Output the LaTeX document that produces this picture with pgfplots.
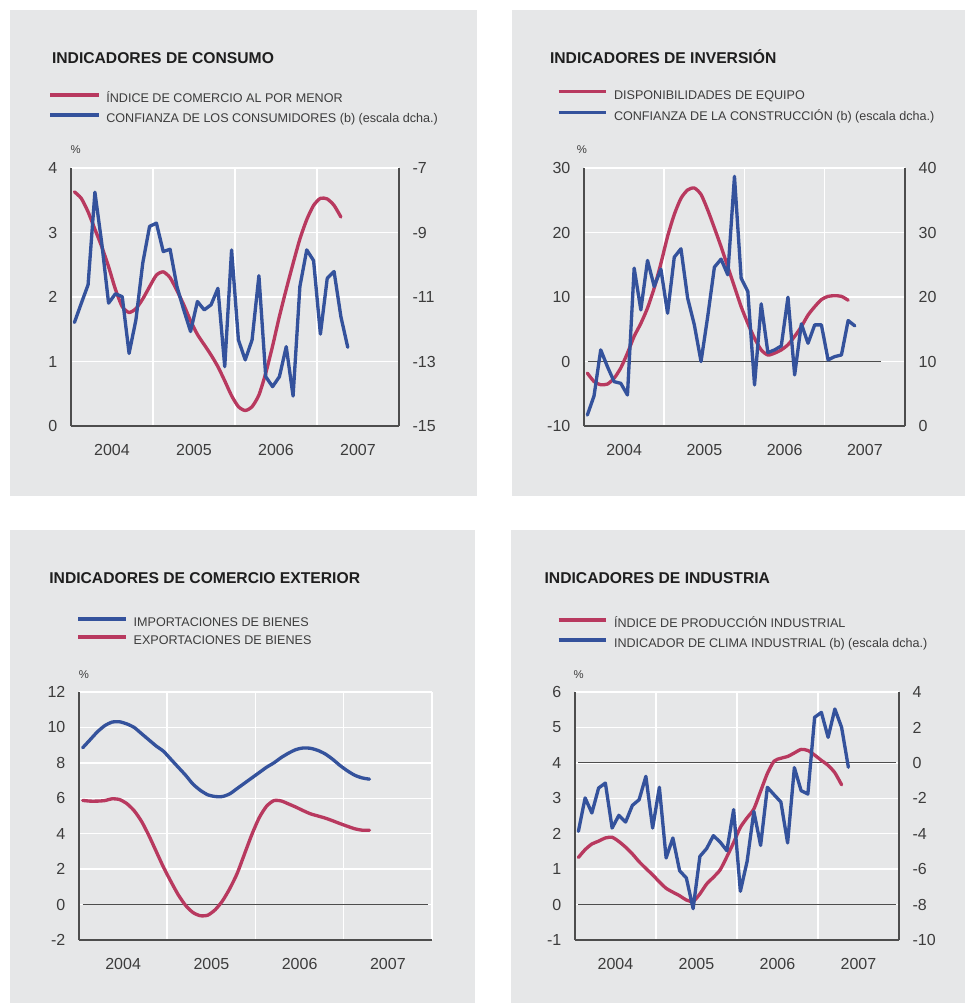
\documentclass[border=0pt]{standalone}
\usepackage{pgfplots}
\usepackage{pgfplotstable}
\pgfplotsset{compat=1.18}
\usepackage{fontspec}
\setmainfont{Liberation Sans}
\definecolor{bg}{HTML}{E6E7E8}
\definecolor{cred}{HTML}{B8395F}
\definecolor{cblue}{HTML}{34529C}
\definecolor{axc}{HTML}{4D4D4D}
\definecolor{txt}{HTML}{3C3C3C}
\definecolor{ttl}{HTML}{1E1E1E}

% Panel 1
\pgfplotstableread[header=false,row sep=\\]{3.63\\3.53\\3.32\\3.05\\2.78\\2.47\\2.12\\1.85\\1.76\\1.82\\1.97\\2.16\\2.34\\2.39\\2.30\\2.10\\1.88\\1.63\\1.42\\1.26\\1.10\\0.92\\0.70\\0.47\\0.30\\0.24\\0.30\\0.48\\0.82\\1.24\\1.70\\2.12\\2.52\\2.90\\3.20\\3.42\\3.53\\3.52\\3.42\\3.24\\}\pAred
\pgfplotstableread[header=false,row sep=\\]{-11.79\\-11.2\\-10.62\\-7.75\\-9.33\\-11.19\\-10.90\\-10.99\\-12.75\\-11.71\\-9.95\\-8.81\\-8.71\\-9.59\\-9.52\\-10.67\\-11.40\\-12.07\\-11.14\\-11.40\\-11.24\\-10.73\\-13.16\\-9.54\\-12.33\\-12.95\\-12.33\\-10.34\\-13.47\\-13.78\\-13.47\\-12.54\\-14.07\\-10.67\\-9.54\\-9.87\\-12.15\\-10.42\\-10.21\\-11.61\\-12.56\\}\pAblue
% Panel 2
\pgfplotstableread[header=false,row sep=\\]{-1.8\\-3.1\\-3.6\\-3.5\\-2.6\\-1.0\\1.3\\3.9\\5.9\\8.3\\11.4\\15.2\\19.4\\22.8\\25.3\\26.6\\26.9\\25.9\\23.5\\20.7\\17.8\\14.7\\11.6\\8.5\\5.9\\3.6\\1.8\\1.0\\1.3\\1.8\\2.6\\3.9\\5.4\\7.2\\8.5\\9.6\\10.1\\10.2\\10.1\\9.5\\}\pBred
\pgfplotstableread[header=false,row sep=\\]{1.7\\4.66\\11.8\\9.21\\6.88\\6.62\\4.81\\24.48\\18.0\\25.67\\21.63\\24.32\\17.49\\26.18\\27.48\\19.82\\15.68\\9.99\\16.97\\24.63\\25.87\\23.44\\38.7\\22.92\\20.85\\6.36\\18.94\\11.38\\11.8\\12.42\\19.97\\7.92\\15.83\\12.83\\15.68\\15.68\\10.25\\10.76\\11.02\\16.35\\15.52\\}\pBblue
% Panel 3
\pgfplotstableread[header=false,row sep=\\]{8.85\\9.3\\9.75\\10.1\\10.3\\10.32\\10.2\\10.0\\9.65\\9.3\\8.95\\8.65\\8.2\\7.75\\7.3\\6.8\\6.45\\6.2\\6.1\\6.1\\6.25\\6.55\\6.85\\7.15\\7.45\\7.75\\8.0\\8.3\\8.55\\8.75\\8.84\\8.82\\8.7\\8.5\\8.2\\7.85\\7.55\\7.3\\7.15\\7.08\\}\pCblue
\pgfplotstableread[header=false,row sep=\\]{5.88\\5.84\\5.84\\5.87\\5.97\\5.93\\5.7\\5.3\\4.7\\3.9\\3.0\\2.1\\1.3\\0.55\\-0.05\\-0.45\\-0.63\\-0.6\\-0.3\\0.2\\0.9\\1.75\\2.85\\3.95\\4.9\\5.55\\5.87\\5.85\\5.68\\5.5\\5.3\\5.12\\5.0\\4.88\\4.73\\4.57\\4.42\\4.28\\4.2\\4.2\\}\pCred
% Panel 4
\pgfplotstableread[header=false,row sep=\\]{1.33\\1.55\\1.71\\1.79\\1.88\\1.9\\1.78\\1.62\\1.43\\1.21\\1.02\\0.84\\0.64\\0.46\\0.35\\0.25\\0.13\\0.09\\0.3\\0.58\\0.77\\0.98\\1.35\\1.75\\2.18\\2.45\\2.7\\3.2\\3.7\\4.05\\4.13\\4.18\\4.28\\4.38\\4.35\\4.22\\4.07\\3.93\\3.72\\3.38\\}\pDred
\pgfplotstableread[header=false,row sep=\\]{-3.87\\-1.98\\-2.83\\-1.42\\-1.14\\-3.68\\-2.96\\-3.34\\-2.4\\-2.08\\-0.76\\-3.68\\-1.38\\-5.37\\-4.24\\-6.09\\-6.5\\-8.23\\-5.28\\-4.84\\-4.11\\-4.47\\-4.96\\-2.64\\-7.25\\-5.56\\-2.74\\-4.66\\-1.38\\-1.8\\-2.21\\-4.52\\-0.27\\-1.57\\-1.76\\2.57\\2.85\\1.44\\3.04\\2.0\\-0.25\\}\pDblue

\pgfplotsset{
  base/.style={
    scale only axis, anchor=south west,
    xmin=0, xmax=48,
    xtick={6,18,30,42}, xticklabels={2004,2005,2006,2007},
    major tick length=0pt, minor tick length=0pt,
    tick label style={font=\fontsize{9.6}{10}\selectfont, text=txt},
    /pgf/number format/assume math mode=true,
    axis line style={axc, line width=0.8pt},
  },
  leftax/.style={
    base,
    axis x line*=bottom, axis y line*=left,
    minor xtick={12,24,36,48},
    xminorgrids, ymajorgrids,
    grid style={white, line width=0.9pt},
    minor grid style={white, line width=0.9pt},
    x tick label style={inner sep=0pt, anchor=north, yshift=-10.5pt},
    y tick label style={inner sep=0pt, anchor=east, xshift=-8pt},
  },
  rightax/.style={
    base,
    axis x line=none, axis y line*=right,
    y tick label style={inner sep=0pt, anchor=west, xshift=8pt},
  },
  redl/.style={cred, line width=2pt, line join=round, line cap=round},
  bluel/.style={cblue, line width=2pt, line join=round, line cap=round},
  zl/.style={axc, line width=0.6pt},
}

\begin{document}
\begin{tikzpicture}
\begin{scope}[x=0.6pt,y=0.6pt]
\fill[white] (0,0) rectangle (965,-1003);
\path[use as bounding box] (0,0) rectangle (965,-1003);
\fill[bg] (10,-10) rectangle (477,-495.7);
\fill[bg] (512,-10) rectangle (965,-495.7);
\fill[bg] (10,-530) rectangle (475,-1003);
\fill[bg] (511,-530) rectangle (965,-1003);

\tikzset{ttl/.style={anchor=base west, inner sep=0pt, text=ttl, font=\fontsize{9.4}{11}\selectfont\bfseries},
         lg/.style={anchor=base west, inner sep=0pt, text=txt, font=\fontsize{7.55}{9}\selectfont},
         pc/.style={inner sep=0pt, text=txt, font=\fontsize{6.8}{8}\selectfont}}
% Panel 1 texts
\node[ttl] at (51.7,-63.3) {INDICADORES DE CONSUMO};
\draw[cred, line width=1.9pt] (50,-95) -- (99,-95);
\draw[cblue, line width=1.9pt] (50,-115) -- (99,-115);
\node[lg] at (106,-102.7) {ÍNDICE DE COMERCIO AL POR MENOR};
\node[lg] at (106,-122.7) {CONFIANZA DE LOS CONSUMIDORES (b) (escala dcha.)};
\node[pc] at (75.7,-150) {\%};
% Panel 2 texts
\node[ttl] at (549.7,-63.3) {INDICADORES DE INVERSIÓN};
\draw[cred, line width=1.9pt] (558.7,-91.7) -- (606,-91.7);
\draw[cblue, line width=1.9pt] (558.7,-112.7) -- (606,-112.7);
\node[lg] at (613.7,-99.3) {DISPONIBILIDADES DE EQUIPO};
\node[lg] at (613.7,-120.7) {CONFIANZA DE LA CONSTRUCCIÓN (b) (escala dcha.)};
\node[pc] at (582,-150) {\%};
% Panel 3 texts
\node[ttl] at (49,-583.3) {INDICADORES DE COMERCIO EXTERIOR};
\draw[cblue, line width=1.9pt] (78.3,-619) -- (125.7,-619);
\draw[cred, line width=1.9pt] (78.3,-637) -- (125.7,-637);
\node[lg] at (133.3,-626.7) {IMPORTACIONES DE BIENES};
\node[lg] at (133.3,-644.3) {EXPORTACIONES DE BIENES};
\node[pc] at (84,-674.3) {\%};
% Panel 4 texts
\node[ttl] at (544.3,-583.3) {INDICADORES DE INDUSTRIA};
\draw[cred, line width=1.9pt] (558.7,-620) -- (606,-620);
\draw[cblue, line width=1.9pt] (558.7,-640) -- (606,-640);
\node[lg] at (613.7,-627.7) {ÍNDICE DE PRODUCCIÓN INDUSTRIAL};
\node[lg] at (613.7,-647.7) {INDICADOR DE CLIMA INDUSTRIAL (b) (escala dcha.)};
\node[pc] at (578.7,-674.3) {\%};
\end{scope}

% ---------- Panel 1 ----------
\begin{axis}[leftax, at={(42.6pt,-255.6pt)}, width=196.8pt, height=154.8pt,
  ymin=0, ymax=4, ytick={0,1,2,3,4}]
  \addplot[redl, smooth, tension=0.4] table[x expr=\coordindex+0.5, y index=0] {\pAred};
\end{axis}
\begin{axis}[rightax, at={(42.6pt,-255.6pt)}, width=196.8pt, height=154.8pt,
  ymin=-15, ymax=-7, ytick={-15,-13,-11,-9,-7}]
  \addplot[bluel] table[x expr=\coordindex+0.5, y index=0] {\pAblue};
\end{axis}

% ---------- Panel 2 ----------
\begin{axis}[leftax, at={(350.4pt,-255.6pt)}, width=192.6pt, height=154.8pt,
  ymin=-10, ymax=30, ytick={-10,0,10,20,30}]
  \addplot[zl] coordinates {(0.55,0) (44.4,0)};
  \addplot[redl, smooth, tension=0.4] table[x expr=\coordindex+0.5, y index=0] {\pBred};
\end{axis}
\begin{axis}[rightax, at={(350.4pt,-255.6pt)}, width=192.6pt, height=154.8pt,
  ymin=0, ymax=40, ytick={0,10,20,30,40}]
  \addplot[bluel] table[x expr=\coordindex+0.5, y index=0] {\pBblue};
\end{axis}

% ---------- Panel 3 ----------
\begin{axis}[leftax, at={(47.4pt,-564pt)}, width=211.8pt, height=148.8pt,
  ymin=-2, ymax=12, ytick={-2,0,2,4,6,8,10,12}]
  \addplot[zl] coordinates {(0.5,0) (47.5,0)};
  \addplot[bluel, smooth, tension=0.4] table[x expr=\coordindex+0.5, y index=0] {\pCblue};
  \addplot[redl, smooth, tension=0.4] table[x expr=\coordindex+0.5, y index=0] {\pCred};
\end{axis}

% ---------- Panel 4 ----------
\begin{axis}[leftax, at={(345pt,-564pt)}, width=194.4pt, height=148.8pt,
  ymin=-1, ymax=6, ytick={-1,0,1,2,3,4,5,6}]
  \addplot[zl] coordinates {(0.5,0) (47.6,0)};
  \addplot[zl] coordinates {(0.5,4) (47.6,4)};
  \addplot[redl, smooth, tension=0.4] table[x expr=\coordindex+0.5, y index=0] {\pDred};
\end{axis}
\begin{axis}[rightax, at={(345pt,-564pt)}, width=194.4pt, height=148.8pt,
  ymin=-10, ymax=4, ytick={-10,-8,-6,-4,-2,0,2,4}]
  \addplot[bluel] table[x expr=\coordindex+0.5, y index=0] {\pDblue};
\end{axis}
\end{tikzpicture}
\end{document}
